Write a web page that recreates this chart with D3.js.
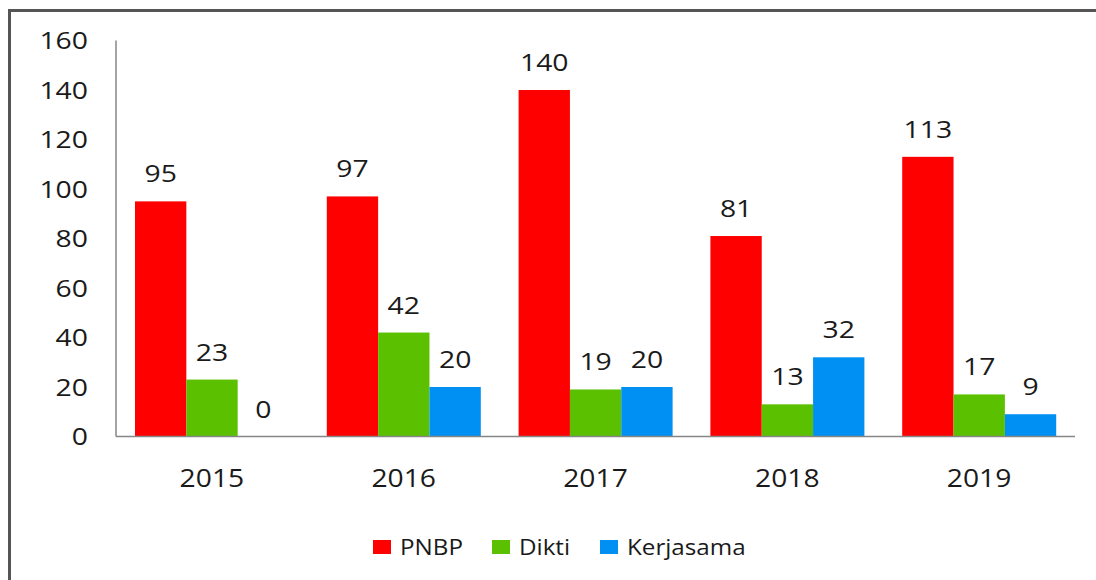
<!DOCTYPE html>
<html>
<head>
<meta charset="utf-8">
<script src="https://cdn.jsdelivr.net/npm/d3@7"></script>
<style>
  body { margin: 0; background: #fff; }
  text { font-family: "Open Sans", sans-serif; fill: #1a1a1a; }
</style>
</head>
<body>
<svg></svg>
<script>
var years = ["2015", "2016", "2017", "2018", "2019"];
var seriesNames = ["PNBP", "Dikti", "Kerjasama"];
var pnbp = [95, 97, 140, 81, 113];
var dikti = [23, 42, 19, 13, 17];
var kerjasama = [0, 20, 20, 32, 9];
var yTicks = [0, 20, 40, 60, 80, 100, 120, 140, 160];
var colors = ["#ff0000", "#5ac000", "#008ff2"];

var width = 1096, height = 580;
var svg = d3.select("svg").attr("width", width).attr("height", height);

// outer frame
svg.append("rect")
    .attr("x", 9.5).attr("y", 10.5)
    .attr("width", 1100).attr("height", 600)
    .attr("fill", "none")
    .attr("stroke", "#555")
    .attr("stroke-width", 3);

var x0 = d3.scaleBand().domain(years).range([116, 1075]);
var x1 = d3.scaleBand().domain(seriesNames).range([19, 173]);
var y = d3.scaleLinear().domain([0, 160]).range([436.5, 40.5]);

var rows = years.map((yr, i) => ({
    year: yr,
    values: [pnbp[i], dikti[i], kerjasama[i]]
}));

// scaled text helper (source font is wider than Open Sans)
function label(g, tx, ty, str, size, sx, anchor) {
    g.append("text")
        .attr("transform", "translate(" + tx + "," + ty + ") scale(" + sx + ",1)")
        .attr("text-anchor", anchor)
        .style("font-size", size + "px")
        .text(str);
}

// y tick labels
yTicks.forEach(function(t) {
    label(svg, 88, y(t) + 8.5, t, 24, 1.18, "end");
});

// bars
var groups = svg.selectAll("g.year")
    .data(rows)
    .enter()
    .append("g")
    .attr("class", "year")
    .attr("transform", d => "translate(" + x0(d.year) + ",0)");

groups.selectAll("rect")
    .data(d => d.values.map((v, j) => ({name: seriesNames[j], value: v, c: colors[j]})))
    .enter()
    .append("rect")
    .attr("x", d => x1(d.name))
    .attr("y", d => y(d.value))
    .attr("width", x1.bandwidth())
    .attr("height", d => y(0) - y(d.value))
    .attr("fill", d => d.c);

groups.each(function(d) {
    var g = d3.select(this);
    d.values.forEach(function(v, j) {
        label(g, x1(seriesNames[j]) + x1.bandwidth() / 2, y(v) - 19, v, 24, 1.18, "middle");
    });
    label(g, x0.bandwidth() / 2, 487, d.year, 25, 1.13, "middle");
});

// axes lines
svg.append("line")
    .attr("x1", 116).attr("x2", 116)
    .attr("y1", y(160)).attr("y2", y(0))
    .attr("stroke", "#868686").attr("stroke-width", 1.5);
svg.append("line")
    .attr("x1", 116).attr("x2", 1075)
    .attr("y1", y(0)).attr("y2", y(0))
    .attr("stroke", "#868686").attr("stroke-width", 1.5);

// legend
var legendX = [373, 492, 600];
seriesNames.forEach(function(name, i) {
    svg.append("rect")
        .attr("x", legendX[i]).attr("y", 540)
        .attr("width", 18).attr("height", 14)
        .attr("fill", colors[i]);
    label(svg, legendX[i] + 27, 555, name, 22, 1.1, "start");
});
</script>
</body>
</html>
